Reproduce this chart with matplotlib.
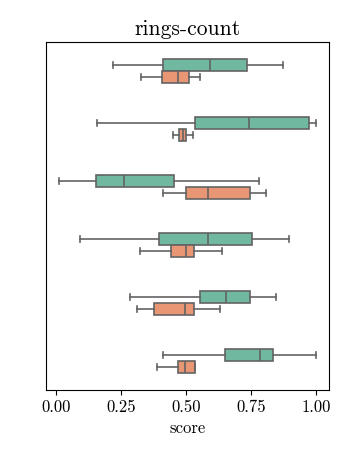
import matplotlib
matplotlib.use("Agg")
import matplotlib.pyplot as plt
import numpy as np

plt.rcParams['font.family'] = 'serif'
plt.rcParams['font.serif'] = ['cmr10']
plt.rcParams['mathtext.fontset'] = 'cm'
plt.rcParams['axes.formatter.use_mathtext'] = True

# five-number summaries per group (whisker low, q1, median, q3, whisker high)
green_stats = [
    [0.218, 0.413, 0.594, 0.736, 0.873],
    [0.158, 0.533, 0.744, 0.974, 1.000],
    [0.013, 0.155, 0.263, 0.455, 0.782],
    [0.092, 0.396, 0.585, 0.755, 0.895],
    [0.286, 0.555, 0.653, 0.747, 0.847],
    [0.410, 0.650, 0.786, 0.833, 0.999],
]
orange_stats = [
    [0.327, 0.409, 0.468, 0.513, 0.555],
    [0.451, 0.473, 0.487, 0.501, 0.526],
    [0.412, 0.500, 0.585, 0.745, 0.808],
    [0.322, 0.441, 0.499, 0.530, 0.640],
    [0.312, 0.376, 0.495, 0.530, 0.631],
    [0.387, 0.469, 0.497, 0.536, 0.536],
]
colors = ['#71b8a0', '#e99675']
edge = '#636363'


def to_bxp(stats):
    return [dict(whislo=s[0], q1=s[1], med=s[2], q3=s[3], whishi=s[4], fliers=[])
            for s in stats]


fig = plt.figure(figsize=(3.48, 4.55), dpi=100)
ax = fig.add_axes([46 / 348, 1 - 390 / 455, 283 / 348, 348 / 455])

pos = np.arange(len(green_stats))
for stats, off, col in [(green_stats, -0.1, colors[0]), (orange_stats, 0.1, colors[1])]:
    ax.bxp(to_bxp(stats), positions=pos + off, widths=0.2, vert=False,
           patch_artist=True, showfliers=False,
           boxprops=dict(facecolor=col, edgecolor=edge, linewidth=1.2),
           medianprops=dict(color=edge, linewidth=1.2),
           whiskerprops=dict(color=edge, linewidth=1.2),
           capprops=dict(color=edge, linewidth=1.2))

ax.set_ylim(5.5, -0.5)
ax.set_yticks([])
ax.set_xlim(-0.038, 1.05)
ax.set_xticks([0, 0.25, 0.5, 0.75, 1.0])
ax.set_xticklabels(['0.00', '0.25', '0.50', '0.75', '1.00'])
ax.tick_params(axis='x', labelsize=12)
ax.set_xlabel('score', fontsize=12)
ax.set_title('rings-count', fontsize=15.5, pad=5)

fig.savefig('out.png', dpi=100)
